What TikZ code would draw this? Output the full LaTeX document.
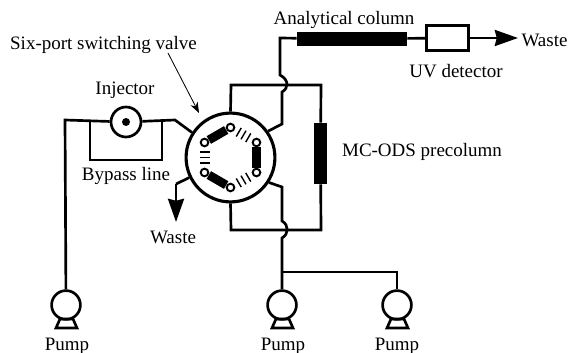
\documentclass[tikz,border=0pt]{standalone}
\usepackage{fontspec}
\setmainfont{Liberation Serif}
\usetikzlibrary{arrows.meta}
\tikzset{
    pipe/.style={line width=1.9pt},
    pumphead/.style={circle,draw,line width=1.9pt,inner sep=0pt,minimum size=0.72cm},
    column/.style={rectangle,fill=black,inner sep=0pt},
    port/.style={circle,draw,fill=white,line width=1.4pt,inner sep=0pt,minimum size=0.19cm},
    label/.style={inner sep=0pt,font=\fontsize{13.5}{15}\selectfont},
    bigtip/.style={-{Stealth[length=0.58cm,width=0.4cm,inset=0.05cm]}}
}
\begin{document}
\begin{tikzpicture}[x=0.025cm,y=-0.025cm]
    \useasboundingbox (0,0) rectangle (569,353);
    % valve with its ports
    \node[circle,draw,line width=2.2pt,inner sep=0pt,minimum size=2.22cm] (valve) at (230.5,157.5) {};
    \foreach \a in {0,120,240} {
        \begin{scope}[shift={(230.5,157.5)},rotate=\a]
            \node[column,rotate=\a,minimum width=0.22cm,minimum height=0.5cm] (bar\a) at (26,0) {};
        \end{scope}
    }
    \foreach \a in {60,180,300} {
        \begin{scope}[shift={(230.5,157.5)},rotate=\a]
            \foreach \d in {-5.5,0,5.5} {
                \draw[line width=1pt] (21,\d) -- (31,\d);
            }
        \end{scope}
    }
    \foreach \a in {30,90,150,210,270,330} {
        \begin{scope}[shift={(230.5,157.5)},rotate=\a]
            \node[port] (port\a) at (30,0) {};
        \end{scope}
    }
    % injector side
    \node[circle,draw,line width=1.9pt,inner sep=0pt,minimum size=0.75cm] (injector) at (126,122) {};
    \node[circle,fill=black,inner sep=0pt,minimum size=0.2cm] (needle) at (injector) {};
    \node[pumphead] (pump1) at (66,305) {};
    \coordinate (c1) at (65,120);
    \coordinate (c2) at (175,120);
    \coordinate (b1) at (90,120);
    \coordinate (b2) at (90,160);
    \coordinate (b3) at (162,160);
    \coordinate (b4) at (162,120);
    \draw[pipe] (pump1) -- (c1) -- (injector);
    \draw[pipe] (injector) -- (c2) -- (valve.147);
    \draw[pipe] (b1) -- (b2) -- (b3) -- (b4);
    % waste from the valve
    \coordinate (w1) at (176,184);
    \coordinate (w2) at (176,222);
    \draw[pipe] (valve.206) -- (w1);
    \draw[pipe,bigtip] (w1) -- (w2);
    % precolumn loop
    \node[column,minimum width=0.33cm,minimum height=1.53cm] (precolumn) at (320.5,153.5) {};
    \coordinate (l1) at (231,85);
    \coordinate (l2) at (321,85);
    \coordinate (l3) at (321,230);
    \coordinate (l4) at (231,230);
    \draw[pipe] (valve.90) -- (l1) -- (l2) -- (precolumn);
    \draw[pipe] (precolumn) -- (l3) -- (l4) -- (valve.270);
    % analytical column and detector
    \node[column,minimum width=2.75cm,minimum height=0.33cm] (anacolumn) at (352,39) {};
    \node[draw,line width=1.9pt,inner sep=0pt,minimum width=1.05cm,minimum height=0.62cm] (detector) at (447.5,38) {};
    \coordinate (t1) at (282,124);
    \coordinate (t2) at (282,92);
    \coordinate (t3) at (280,75);
    \coordinate (t4) at (280,38);
    \coordinate (t5) at (518,38);
    \draw[pipe] (valve.35) -- (t1) -- (t2) .. controls (289,88) and (289,80) .. (t3) -- (t4) -- (anacolumn);
    \draw[pipe] (anacolumn) -- (detector);
    \draw[pipe,bigtip] (detector) -- (t5);
    % lower pumps
    \node[pumphead] (pump2) at (282,305) {};
    \node[pumphead] (pump3) at (397,305) {};
    \coordinate (d1) at (282,187);
    \coordinate (d2) at (282,221);
    \coordinate (d3) at (282,238);
    \coordinate (d4) at (282,272);
    \coordinate (d5) at (397,272);
    \draw[pipe] (valve.-33) -- (d1) -- (d2) .. controls (289,225) and (289,234) .. (d3) -- (pump2);
    \draw[pipe] (d4) -- (d5) -- (pump3);
    \foreach \p in {pump1,pump2,pump3} {
        \draw[pipe] ([shift={(-6,14)}]\p.center) -- ([shift={(-10,23)}]\p.center)
            -- ([shift={(11,23)}]\p.center) -- ([shift={(7,14)}]\p.center) -- cycle;
    }
    % labels
    \node[label] (lanacolumn) at (344,20) {Analytical column};
    \node[label] (lwaste1) at (544.5,40) {Waste};
    \node[label] (ldetector) at (456,71) {UV detector};
    \node[label] (lvalve) at (103.5,45) {Six-port switching valve};
    \node[label] (linjector) at (125,90) {Injector};
    \node[label] (lbypass) at (126,176) {Bypass line};
    \node[label] (lprecolumn) at (422,152) {MC-ODS precolumn};
    \node[label] (lwaste2) at (173,237) {Waste};
    \node[label] (lpump1) at (67,346) {Pump};
    \node[label] (lpump2) at (283,346) {Pump};
    \node[label] (lpump3) at (397,346) {Pump};
    \coordinate (v1) at (168,53);
    \coordinate (v2) at (199,113);
    \draw[line width=0.6pt,-{Stealth[length=0.27cm,width=0.2cm]}] (v1) -- (v2);
\end{tikzpicture}
\end{document}
